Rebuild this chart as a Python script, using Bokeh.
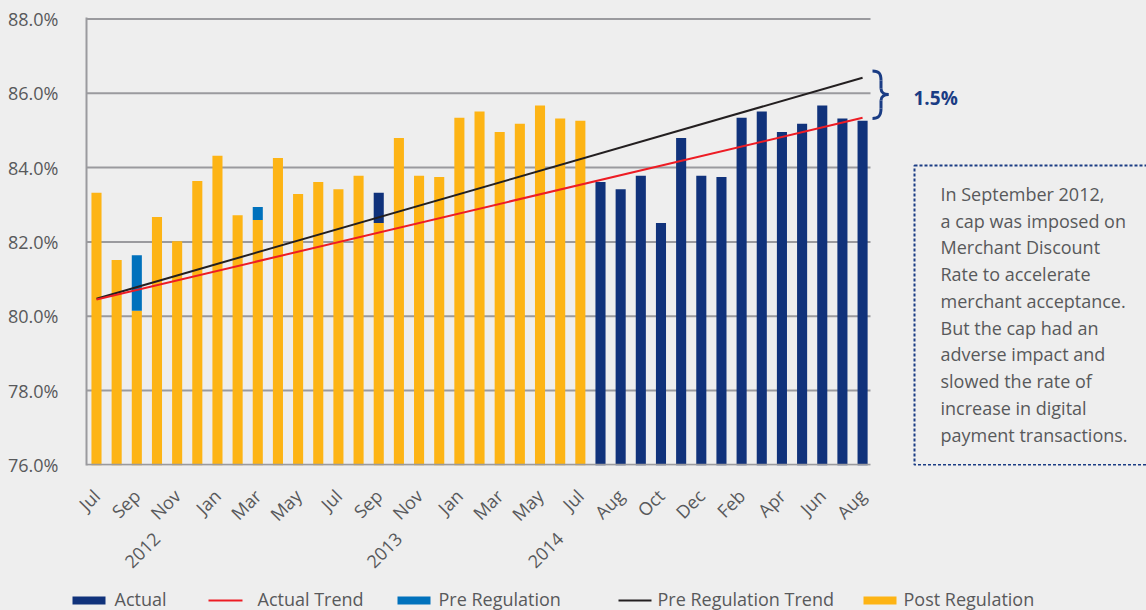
import math
from bokeh.plotting import figure
from bokeh.layouts import column
from bokeh.models import (FixedTicker, LinearAxis, Range1d, ColumnDataSource,
                          GlobalInlineStyleSheet)
from bokeh.core.properties import value
from bokeh.embed import file_html
from bokeh.resources import INLINE

# ---------------- data ----------------
months = ["Jul", "Aug", "Sep", "Oct", "Nov", "Dec", "Jan", "Feb", "Mar", "Apr", "May", "Jun",
          "Jul", "Aug", "Sep", "Oct", "Nov", "Dec", "Jan", "Feb", "Mar", "Apr", "May", "Jun", "Jul",
          "Jul", "Aug", "Sep", "Oct", "Nov", "Dec", "Jan", "Feb", "Mar", "Apr", "May", "Jun", "Jul", "Aug"]
post_regulation = [83.32, 81.51, 80.15, 82.67, 82.02, 83.64, 84.32, 82.72, 82.59, 84.26, 83.29, 83.61,
                   83.42, 83.78, 82.51, 84.80, 83.78, 83.75, 85.34, 85.51, 84.96, 85.18, 85.67, 85.32, 85.26]
pre_regulation_bar = [3, 9]
pre_regulation_top = [81.64, 82.94]
nan = float("nan")
actual = [nan, nan, nan, nan, nan, nan, nan, nan, nan, nan, nan, nan, nan, nan, 83.32,
          nan, nan, nan, nan, nan, nan, nan, nan, nan, nan,
          83.61, 83.42, 83.78, 82.51, 84.80, 83.78, 83.75, 85.34, 85.51, 84.96, 85.18, 85.67, 85.32, 85.26]
trend_x = [1, 39]
actual_trend = [80.45, 85.34]
pre_regulation_trend = [80.47, 86.42]
y_ticks = [76, 78, 80, 82, 84, 86, 88]
y_tick_labels = ["76.0%", "78.0%", "80.0%", "82.0%", "84.0%", "86.0%", "88.0%"]
year_labels = ["2012", "2013", "2014"]
year_positions = [4, 16, 24]
legend_labels = ["Actual", "Actual Trend", "Pre Regulation", "Pre Regulation Trend", "Post Regulation"]
gap_label = "1.5%"
note_lines = ["In September 2012,", "a cap was imposed on", "Merchant Discount",
              "Rate to accelerate", "merchant acceptance.", "But the cap had an",
              "adverse impact and", "slowed the rate of", "increase in digital",
              "payment transactions."]

# ---------------- style ----------------
FONT = "Open Sans"
TEXT = "#58595b"
GRID = "#9a9a9e"
BG = "#eeeeee"
YELLOW = "#fdb415"
NAVY = "#10327b"
BLUE = "#0071bc"
RED = "#ed1c24"
BLACK = "#231f20"
ACCENT = "#1a3c84"

W, H_MAIN, H_LEG = 1146, 584, 26

# page-pixel helpers (decorations only)
def dx(px):
    return 1 + (px - 96) / 20.16

def dy(py):
    return 76 + (464.3 - py) / 37.15

FR_L, FR_T, FR_B = 86, 17, 465
Y_LO = dy(FR_B)
GRID_END = dx(870)

p = figure(width=W, height=H_MAIN, output_backend="svg", toolbar_location=None,
           x_range=Range1d(dx(FR_L), dx(W)), y_range=Range1d(Y_LO, dy(FR_T)),
           min_border_left=FR_L, min_border_right=0, min_border_top=FR_T,
           min_border_bottom=H_MAIN - FR_B,
           background_fill_color=BG, border_fill_color=BG, outline_line_color=None)
p.frame_align = False
p.stylesheets = [GlobalInlineStyleSheet(css="html, body { background: #eeeeee; }")]
p.xgrid.visible = False
p.ygrid.visible = False

# grid lines
p.segment(x0=[dx(FR_L)] * 6, x1=[GRID_END] * 6, y0=y_ticks[1:], y1=y_ticks[1:],
          line_color=GRID, line_width=2)

# bars
x = list(range(1, len(months) + 1))
post_src = ColumnDataSource(dict(x=x[:len(post_regulation)], top=post_regulation,
                                 bottom=[Y_LO] * len(post_regulation)))
p.vbar(x="x", top="top", bottom="bottom", width=0.5, source=post_src,
       fill_color=YELLOW, line_color=None)
pre_src = ColumnDataSource(dict(x=pre_regulation_bar, top=pre_regulation_top,
                                bottom=[post_regulation[b - 1] for b in pre_regulation_bar]))
p.vbar(x="x", top="top", bottom="bottom", width=0.5, source=pre_src,
       fill_color=BLUE, line_color=None)
ax, at, ab = [], [], []
for i, v in enumerate(actual):
    if not math.isnan(v):
        ax.append(i + 1)
        at.append(v)
        ab.append(post_regulation[i] if i < len(post_regulation) else Y_LO)
act_src = ColumnDataSource(dict(x=ax, top=at, bottom=ab))
p.vbar(x="x", top="top", bottom="bottom", width=0.5, source=act_src,
       fill_color=NAVY, line_color=None)

# bottom axis line
p.segment(x0=[dx(FR_L)], x1=[GRID_END], y0=[76], y1=[76], line_color=GRID, line_width=2)

# trends
p.line(trend_x, pre_regulation_trend, line_color=BLACK, line_width=2)
p.line(trend_x, actual_trend, line_color=RED, line_width=2)

# brace
bx0, bx1, bx2 = dx(872), dx(880.5), dx(888)
p.bezier(x0=[bx0, bx1, bx2, bx1], y0=[dy(70.5), dy(88), dy(94), dy(108)],
         x1=[bx1, bx2, bx1, bx0], y1=[dy(80), dy(94), dy(100), dy(118)],
         cx0=[dx(878.5), bx1, dx(884), bx1], cy0=[dy(70.5), dy(92), dy(94), dy(115)],
         cx1=[bx1, dx(884), bx1, dx(878.5)], cy1=[dy(73), dy(94), dy(96), dy(118)],
         line_color=ACCENT, line_width=3)
p.segment(x0=[bx1, bx1], x1=[bx1, bx1], y0=[dy(80), dy(100)], y1=[dy(88), dy(108)],
          line_color=ACCENT, line_width=3)
p.text(x=[dx(913)], y=[dy(97)], text=[gap_label], text_font=value(FONT),
       text_font_style="bold", text_font_size="19px", text_color=ACCENT,
       text_baseline="middle", text_align="left")

# note box
p.quad(left=[dx(914)], right=[dx(1170)], top=[dy(165)], bottom=[dy(464.5)],
       fill_color=None, line_color=ACCENT, line_width=2, line_dash="3 2")
p.text(x=[dx(940)] * len(note_lines),
       y=[dy(193.3 + 26.75 * i) for i in range(len(note_lines))],
       text=note_lines, text_font=value(FONT), text_font_size="18px",
       text_color=TEXT, text_baseline="middle", text_align="left")

# axes
p.yaxis.ticker = FixedTicker(ticks=y_ticks)
p.yaxis.major_label_overrides = dict(zip(y_ticks, y_tick_labels))
p.yaxis.axis_line_color = GRID
p.yaxis.axis_line_width = 2
p.yaxis.major_tick_line_color = None
p.yaxis.minor_tick_line_color = None
p.yaxis.major_label_standoff = 22
p.yaxis.major_label_text_font = FONT
p.yaxis.major_label_text_font_size = "18px"
p.yaxis.major_label_text_color = TEXT

tick_pos = x[::2]
p.xaxis.ticker = FixedTicker(ticks=tick_pos)
p.xaxis.major_label_overrides = {t: months[t - 1] for t in tick_pos}
p.xaxis.axis_line_color = None
p.xaxis.major_tick_line_color = None
p.xaxis.minor_tick_line_color = None
p.xaxis.major_label_orientation = math.pi / 4
p.xaxis.major_label_standoff = 21
p.xaxis.major_label_text_font = FONT
p.xaxis.major_label_text_font_size = "18px"
p.xaxis.major_label_text_color = TEXT

year_axis = LinearAxis(ticker=FixedTicker(ticks=year_positions),
                       major_label_overrides=dict(zip(year_positions, year_labels)),
                       axis_line_color=None, major_tick_line_color=None,
                       minor_tick_line_color=None, major_label_orientation=math.pi / 4,
                       major_label_standoff=-8, major_label_text_font=FONT,
                       major_label_text_font_size="18px", major_label_text_color=TEXT)
p.add_layout(year_axis, "below")

# legend strip (own figure, page-pixel coordinates)
leg = figure(width=W, height=H_LEG, output_backend="svg", toolbar_location=None,
             x_range=Range1d(0, W), y_range=Range1d(H_MAIN + H_LEG, H_MAIN),
             min_border=0, background_fill_color=BG, border_fill_color=BG,
             outline_line_color=None)
leg.frame_align = False
leg.axis.visible = False
leg.grid.visible = False
sw_left = [72, 397, 863]
leg.quad(left=sw_left, right=[s + 33 for s in sw_left], top=[596] * 3, bottom=[604] * 3,
         fill_color=[NAVY, BLUE, YELLOW], line_color=None)
leg.segment(x0=[208, 618], x1=[242, 651], y0=[600, 600], y1=[600, 600],
            line_color=[RED, BLACK], line_width=2)
leg.text(x=[114, 257, 438, 657, 903], y=[598.5] * 5, text=legend_labels,
         text_font=value(FONT), text_font_size="18px", text_color=TEXT,
         text_baseline="middle", text_align="left")

layout = column(p, leg, spacing=0)
open("out.html", "w").write(file_html(layout, INLINE))
